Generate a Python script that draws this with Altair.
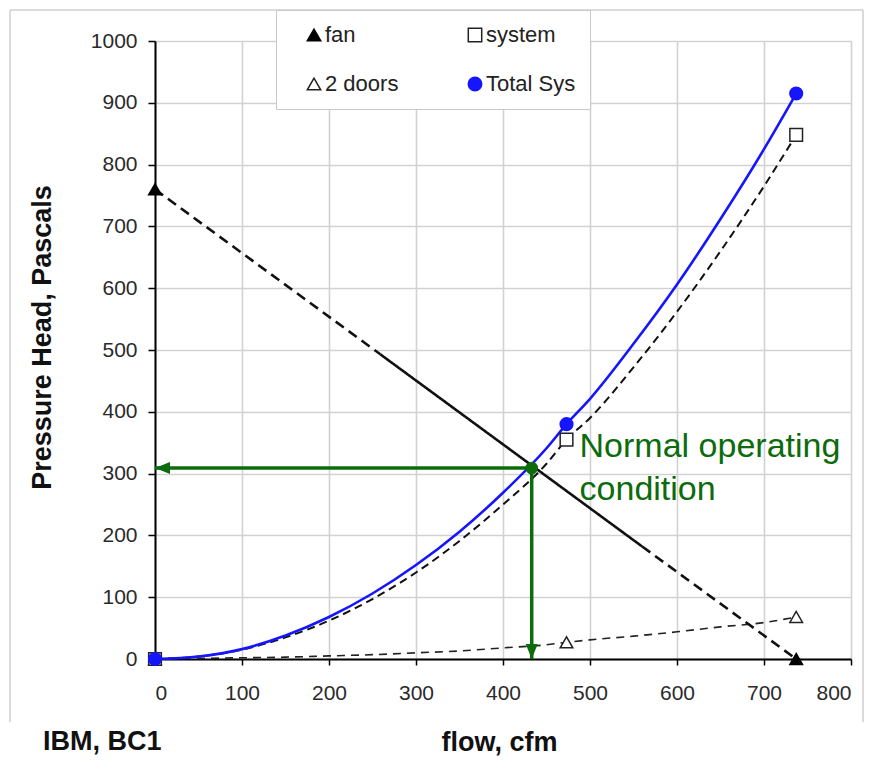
import altair as alt
import pandas as pd

# Measured points (flow in cfm, pressure head in Pa)
flow_pts = [0, 473, 737]
system_pts = [0, 355, 848]
doors_pts = [0, 27, 68]
total_pts = [0, 380, 915]
fan_flow_pts = [0, 737]
fan_pts = [760, 0]

# Curves
curve_flow = [0, 50, 100, 150, 200, 250, 300, 350, 400, 450, 473, 500, 550, 600, 650, 700, 737]
total_curve = [0, 4, 16, 38, 68, 106, 152, 206, 269, 341, 380, 421, 510, 606, 712, 825, 915]
system_curve = [0, 4, 15, 35, 62, 97, 140, 191, 250, 316, 355, 390, 472, 562, 660, 765, 848]
doors_curve = [0, 1, 2, 3, 5, 7, 10, 13, 18, 23, 27, 31, 37, 44, 52, 59, 68]

# Fan characteristic: measured range solid, extrapolated ends dashed
fan_line_flow = [0, 259, 259, 560, 560, 737]
fan_line_p = [760, 493, 493, 182, 182, 0]
fan_line_seg = ["lo", "lo", "mid", "mid", "hi", "hi"]

# Operating point
op_flow = 433
op_p = 309

# Legend entries, listed column by column (two columns)
series_names = ["fan", "2 doors", "system", "Total Sys"]
series_shapes = ["triangle-up", "triangle-up", "square", "circle"]
series_fill = ["#000000", "#ffffff", "#ffffff", "#1515ff"]
series_stroke = ["#000000", "#222222", "#222222", "#1515ff"]

GREEN = "#0c6b0c"
BLUE = "#1515ff"
FONT = "Liberation Sans"

xs = alt.Scale(domain=[0, 800], nice=False, zero=True)
ys = alt.Scale(domain=[0, 1000], nice=False, zero=True)

x_axis = alt.Axis(
    title="flow, cfm", values=list(range(0, 801, 100)), format="d",
    titleX=344, titleY=83, titleBaseline="middle",
    labelPadding=17, tickSize=6)
y_axis = alt.Axis(
    title="Pressure Head, Pascals", values=list(range(0, 1001, 100)), format="d",
    titleX=-113, titleY=296, titleBaseline="middle", titleAlign="center",
    titleAngle=270, labelPadding=11, tickSize=7)


def X(field):
    return alt.X(field, type="quantitative", scale=xs, axis=x_axis)


def Y(field):
    return alt.Y(field, type="quantitative", scale=ys, axis=y_axis)


curves = pd.DataFrame({
    "flow": curve_flow,
    "total": total_curve,
    "system": system_curve,
    "doors": doors_curve,
})
fan_line = pd.DataFrame({"flow": fan_line_flow, "p": fan_line_p, "seg": fan_line_seg})

rows = []
for f, p in zip(fan_flow_pts, fan_pts):
    rows.append({"flow": f, "p": p, "series": "fan"})
for f, p in zip(flow_pts, doors_pts):
    rows.append({"flow": f, "p": p, "series": "2 doors"})
for f, p in zip(flow_pts, system_pts):
    rows.append({"flow": f, "p": p, "series": "system"})
for f, p in zip(flow_pts, total_pts):
    rows.append({"flow": f, "p": p, "series": "Total Sys"})
points = pd.DataFrame(rows)

op = pd.DataFrame({"flow": [op_flow], "p": [op_p], "zero": [0]})

doors_line = alt.Chart(curves).mark_line(
    color="#222222", strokeWidth=1.6, strokeDash=[8, 6], interpolate="monotone"
).encode(x=X("flow"), y=Y("doors"))

system_line = alt.Chart(curves).mark_line(
    color="#111111", strokeWidth=2, strokeDash=[8, 5], interpolate="monotone"
).encode(x=X("flow"), y=Y("system"))

fan = alt.Chart(fan_line).mark_line(color="#111111", strokeWidth=2.6).encode(
    x=X("flow"), y=Y("p"), detail="seg:N",
    strokeDash=alt.StrokeDash("seg:N", scale=alt.Scale(
        domain=["lo", "mid", "hi"], range=[[10, 6], [1, 0], [10, 6]]), legend=None),
)

total_line = alt.Chart(curves).mark_line(
    color=BLUE, strokeWidth=2.6, interpolate="monotone"
).encode(x=X("flow"), y=Y("total"))

# Arrows from the operating point to each axis
h_arrow = alt.Chart(op).mark_rule(color=GREEN, strokeWidth=3.5).encode(
    x=X("zero"), x2="flow", y=Y("p"))
v_arrow = alt.Chart(op).mark_rule(color=GREEN, strokeWidth=3.5).encode(
    x=X("flow"), y=Y("zero"), y2="p")
h_head = alt.Chart(op).mark_point(
    shape="M0,0 L2,-0.8 L2,0.8 Z", filled=True, size=225, color=GREEN, opacity=1
).encode(x=X("zero"), y=Y("p"))
v_head = alt.Chart(op).mark_point(
    shape="M0,0 L-0.8,-2 L0.8,-2 Z", filled=True, size=225, color=GREEN, opacity=1
).encode(x=X("flow"), y=Y("zero"))

legend = alt.Legend(
    title=" ", titleOrient="left", titleFontSize=1, titlePadding=13,
    orient="none", legendX=121, legendY=-31, columns=2,
    fillColor="white", strokeColor="#c8c8c8", padding=14,
    labelFont=FONT, labelFontSize=22, labelColor="#222222", labelOffset=0,
    symbolSize=180, symbolStrokeWidth=1.5, rowPadding=27, columnPadding=65,
)

markers = alt.Chart(points).mark_point(opacity=1, size=160, strokeWidth=1.5).encode(
    x=X("flow"), y=Y("p"),
    shape=alt.Shape("series:N", scale=alt.Scale(domain=series_names, range=series_shapes),
                    legend=legend),
    fill=alt.Fill("series:N", scale=alt.Scale(domain=series_names, range=series_fill),
                  legend=legend),
    stroke=alt.Stroke("series:N", scale=alt.Scale(domain=series_names, range=series_stroke),
                      legend=legend),
)

op_point = alt.Chart(op).mark_circle(color=GREEN, size=160, opacity=1).encode(
    x=X("flow"), y=Y("p"))

note = alt.Chart(pd.DataFrame({"flow": [488], "p": [343],
                               "t": ["Normal operating\ncondition"]})).mark_text(
    align="left", baseline="middle", font=FONT, fontSize=34, color=GREEN,
    lineBreak="\n", lineHeight=43,
).encode(x=X("flow"), y=Y("p"), text="t:N")

# Outer frame and corner caption
frame = alt.Chart(pd.DataFrame({"k": [0]})).mark_rule(color="#cfcfcf", strokeWidth=1.5)
frame_left = frame.encode(x=alt.value(-145), y=alt.value(-31), y2=alt.value(681))
frame_top = frame.encode(x=alt.value(-145), x2=alt.value(708), y=alt.value(-31))
frame_right = frame.encode(x=alt.value(708), y=alt.value(-31), y2=alt.value(681))

caption = alt.Chart(pd.DataFrame({"t": ["IBM, BC1"]})).mark_text(
    align="left", baseline="middle", font=FONT, fontSize=27, fontWeight="bold",
    color="#111111",
).encode(x=alt.value(-112), y=alt.value(701), text="t:N")

chart = alt.layer(
    doors_line, system_line, fan, total_line,
    h_arrow, v_arrow, h_head, v_head,
    markers, op_point, note,
    frame_left, frame_top, frame_right, caption,
).properties(
    width=696, height=618,
    padding={"left": 155, "top": 41, "right": 20, "bottom": 122},
    autosize=alt.AutoSizeParams(type="none"),
    background="white",
).configure_view(stroke=None).configure_axis(
    domainColor="#000000", domainWidth=2,
    tickColor="#000000", tickWidth=1.5,
    gridColor="#d2d2d2", gridWidth=1.6,
    labelFont=FONT, labelFontSize=21, labelColor="#2a2a2a",
    titleFont=FONT, titleFontSize=27, titleFontWeight="bold", titleColor="#111111",
)

chart.save("out.html", embed_options={"renderer": "svg", "actions": False})
